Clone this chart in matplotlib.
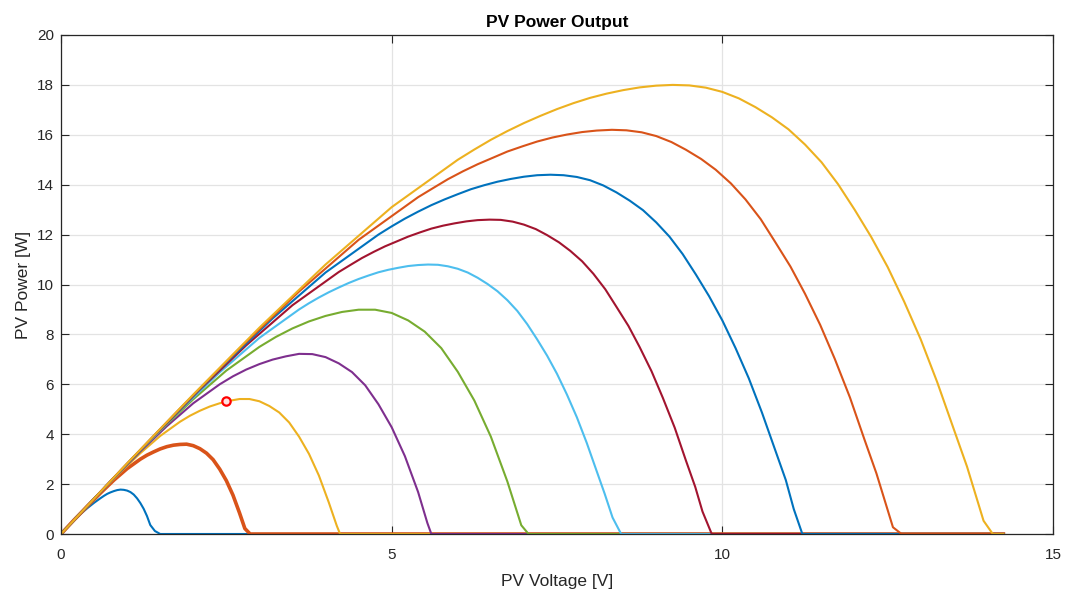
import numpy as np
import matplotlib
matplotlib.use('Agg')
import matplotlib.pyplot as plt

# PV power curves, one per number of series cells (1..10)
V1 = [0, 0.1, 0.2, 0.3, 0.4, 0.5, 0.6, 0.65, 0.7, 0.75, 0.8, 0.85, 0.9, 0.95, 1.0, 1.05, 1.1, 1.15, 1.2, 1.25, 1.3, 1.35, 1.42, 1.5, 14.25]
P1 = [0, 0.28, 0.55, 0.81, 1.04, 1.25, 1.44, 1.53, 1.61, 1.67, 1.72, 1.76, 1.78, 1.77, 1.74, 1.68, 1.58, 1.43, 1.24, 1.01, 0.72, 0.36, 0.12, 0, 0]

V2 = [0, 0.2, 0.4, 0.6, 0.8, 1.0, 1.2, 1.3, 1.4, 1.5, 1.6, 1.7, 1.8, 1.9, 2.0, 2.1, 2.2, 2.3, 2.4, 2.5, 2.6, 2.7, 2.78, 2.86, 14.25]
P2 = [0, 0.57, 1.12, 1.65, 2.16, 2.62, 3.00, 3.16, 3.29, 3.41, 3.50, 3.56, 3.59, 3.60, 3.54, 3.42, 3.24, 2.98, 2.60, 2.14, 1.56, 0.84, 0.22, 0, 0]

V3 = [0, 0.3, 0.6, 0.9, 1.2, 1.5, 1.8, 1.95, 2.1, 2.25, 2.4, 2.55, 2.7, 2.85, 3.0, 3.15, 3.3, 3.45, 3.6, 3.75, 3.9, 4.05, 4.17, 4.22, 14.25]
P3 = [0, 0.85, 1.68, 2.48, 3.24, 3.93, 4.50, 4.74, 4.94, 5.11, 5.24, 5.34, 5.41, 5.41, 5.32, 5.13, 4.87, 4.47, 3.90, 3.21, 2.34, 1.26, 0.33, 0, 0]

V4 = [0, 0.4, 0.8, 1.2, 1.6, 2.0, 2.4, 2.6, 2.8, 3.0, 3.2, 3.4, 3.6, 3.8, 4.0, 4.2, 4.4, 4.6, 4.8, 5.0, 5.2, 5.4, 5.54, 5.6, 14.25]
P4 = [0, 1.13, 2.24, 3.31, 4.32, 5.24, 6.00, 6.32, 6.59, 6.81, 6.99, 7.12, 7.22, 7.21, 7.09, 6.84, 6.49, 5.96, 5.20, 4.28, 3.12, 1.68, 0.44, 0, 0]

V5 = [0, 0.5, 1.0, 1.5, 2.0, 2.5, 3.0, 3.25, 3.5, 3.75, 4.0, 4.25, 4.5, 4.75, 5.0, 5.25, 5.5, 5.75, 6.0, 6.25, 6.5, 6.75, 6.96, 7.07, 14.25]
P5 = [0, 1.42, 2.80, 4.14, 5.40, 6.55, 7.50, 7.90, 8.24, 8.52, 8.74, 8.90, 8.99, 8.99, 8.86, 8.56, 8.11, 7.45, 6.50, 5.35, 3.90, 2.10, 0.35, 0, 0]

V6 = [0, 0.6, 1.2, 1.8, 2.4, 3.0, 3.6, 3.75, 3.9, 4.05, 4.2, 4.35, 4.5, 4.65, 4.8, 4.95, 5.1, 5.25, 5.4, 5.55, 5.7, 5.85,
      6.0, 6.15, 6.3, 6.45, 6.6, 6.75, 6.9, 7.05, 7.2, 7.35, 7.5, 7.65, 7.8, 7.95, 8.1, 8.22, 8.34, 8.47, 14.25]
P6 = [0, 1.70, 3.35, 4.96, 6.48, 7.86, 9.00, 9.25, 9.48, 9.69, 9.88, 10.06, 10.22, 10.36, 10.49, 10.59, 10.67, 10.74, 10.78, 10.80, 10.79, 10.73,
      10.63, 10.48, 10.27, 10.02, 9.73, 9.37, 8.94, 8.41, 7.80, 7.15, 6.42, 5.59, 4.68, 3.65, 2.52, 1.62, 0.66, 0, 0]

V7 = [0, 0.7, 1.4, 2.1, 2.8, 3.5, 4.2, 4.38, 4.55, 4.73, 4.9, 5.08, 5.25, 5.43, 5.6, 5.78, 5.95, 6.13, 6.3, 6.48, 6.65, 6.83,
      7.0, 7.18, 7.35, 7.53, 7.7, 7.88, 8.05, 8.23, 8.4, 8.58, 8.75, 8.93, 9.1, 9.28, 9.45, 9.59, 9.7, 9.84, 14.25]
P7 = [0, 1.98, 3.91, 5.79, 7.56, 9.17, 10.50, 10.79, 11.06, 11.31, 11.53, 11.73, 11.92, 12.09, 12.24, 12.36, 12.45, 12.53, 12.58, 12.60, 12.59, 12.52,
      12.40, 12.22, 11.98, 11.69, 11.35, 10.93, 10.43, 9.81, 9.10, 8.34, 7.49, 6.52, 5.46, 4.26, 2.94, 1.89, 0.90, 0, 0]

V8 = [0, 0.8, 1.6, 2.4, 3.2, 4.0, 4.8, 5.0, 5.2, 5.4, 5.6, 5.8, 6.0, 6.2, 6.4, 6.6, 6.8, 7.0, 7.2, 7.4, 7.6, 7.8,
      8.0, 8.2, 8.4, 8.6, 8.8, 9.0, 9.2, 9.4, 9.6, 9.8, 10.0, 10.2, 10.4, 10.6, 10.8, 10.96, 11.08, 11.21, 14.25]
P8 = [0, 2.26, 4.47, 6.62, 8.64, 10.48, 12.00, 12.33, 12.64, 12.92, 13.18, 13.41, 13.62, 13.82, 13.98, 14.12, 14.23, 14.32, 14.38, 14.40, 14.38, 14.31,
      14.18, 13.97, 13.69, 13.36, 12.98, 12.49, 11.92, 11.22, 10.40, 9.53, 8.56, 7.45, 6.24, 4.86, 3.36, 2.16, 1.00, 0, 0]

V9 = [0, 0.9, 1.8, 2.7, 3.6, 4.5, 5.4, 5.63, 5.85, 6.08, 6.3, 6.53, 6.75, 6.98, 7.2, 7.43, 7.65, 7.88, 8.1, 8.33, 8.55, 8.78,
      9.0, 9.23, 9.45, 9.68, 9.9, 10.13, 10.35, 10.58, 10.8, 11.03, 11.25, 11.48, 11.7, 11.93, 12.15, 12.33, 12.58, 12.71, 14.25]
P9 = [0, 2.55, 5.03, 7.44, 9.72, 11.79, 13.50, 13.87, 14.22, 14.54, 14.82, 15.08, 15.33, 15.54, 15.73, 15.89, 16.01, 16.11, 16.17, 16.20, 16.18, 16.10,
      15.95, 15.71, 15.40, 15.03, 14.60, 14.05, 13.41, 12.62, 11.70, 10.72, 9.63, 8.38, 7.02, 5.47, 3.78, 2.43, 0.27, 0, 0]

V10 = [0, 1.0, 2.0, 3.0, 4.0, 5.0, 6.0, 6.25, 6.5, 6.75, 7.0, 7.25, 7.5, 7.75, 8.0, 8.25, 8.5, 8.75, 9.0, 9.25, 9.5, 9.75,
       10.0, 10.25, 10.5, 10.75, 11.0, 11.25, 11.5, 11.75, 12.0, 12.25, 12.5, 12.75, 13.0, 13.25, 13.5, 13.7, 13.95, 14.09, 14.25]
P10 = [0, 2.83, 5.59, 8.27, 10.80, 13.10, 15.00, 15.41, 15.80, 16.15, 16.47, 16.76, 17.03, 17.27, 17.48, 17.65, 17.79, 17.90, 17.97, 18.00, 17.98, 17.89,
       17.72, 17.46, 17.11, 16.70, 16.22, 15.61, 14.90, 14.02, 13.00, 11.91, 10.70, 9.31, 7.80, 6.08, 4.20, 2.70, 0.53, 0, 0]

# highlighted operating point
mpp_v = [2.49]
mpp_p = [5.33]

x_ticks = [0, 5, 10, 15]
y_ticks = [0, 2, 4, 6, 8, 10, 12, 14, 16, 18, 20]

COLORS = ['#0072BD', '#D95319', '#EDB120', '#7E2F8E', '#77AC30',
          '#4DBEEE', '#A2142F', '#0072BD', '#D95319', '#EDB120']

plt.rcParams['font.family'] = ['Liberation Sans', 'DejaVu Sans']

fig = plt.figure(figsize=(10.68, 5.92), dpi=100)
ax = fig.add_axes([61 / 1068, 58 / 592, 992 / 1068, 499 / 592])

curves = [(V1, P1), (V2, P2), (V3, P3), (V4, P4), (V5, P5),
          (V6, P6), (V7, P7), (V8, P8), (V9, P9), (V10, P10)]
for i, (v, p) in enumerate(curves):
    lw = 2.6 if i == 1 else 1.5
    ax.plot(v, p, color=COLORS[i], linewidth=lw, solid_joinstyle='round')

ax.plot(mpp_v, mpp_p, 'o', markersize=6, markeredgecolor='#FF0000',
        markerfacecolor='#FFE0E0', markeredgewidth=1.6)

ax.set_xlim(0, 15)
ax.set_ylim(0, 20)
ax.set_xticks(x_ticks)
ax.set_yticks(y_ticks)

ax.grid(True, color='#E3E3E3', linewidth=0.9)
ax.set_axisbelow(True)
for s in ax.spines.values():
    s.set_color('#262626')
    s.set_linewidth(0.9)
ax.tick_params(direction='in', top=True, right=True, length=6, width=0.8,
               colors='#262626', labelsize=11)
ax.tick_params(axis='x', pad=10)
ax.tick_params(axis='y', pad=5)

ax.set_title('PV Power Output', fontsize=12.5, fontweight='bold', color='black', pad=6)
ax.set_xlabel('PV Voltage [V]', fontsize=12.5, color='#262626', labelpad=9)
ax.set_ylabel('PV Power [W]', fontsize=12.5, color='#262626', labelpad=4)

fig.savefig('out.png', dpi=100, facecolor='white')
plt.close(fig)
